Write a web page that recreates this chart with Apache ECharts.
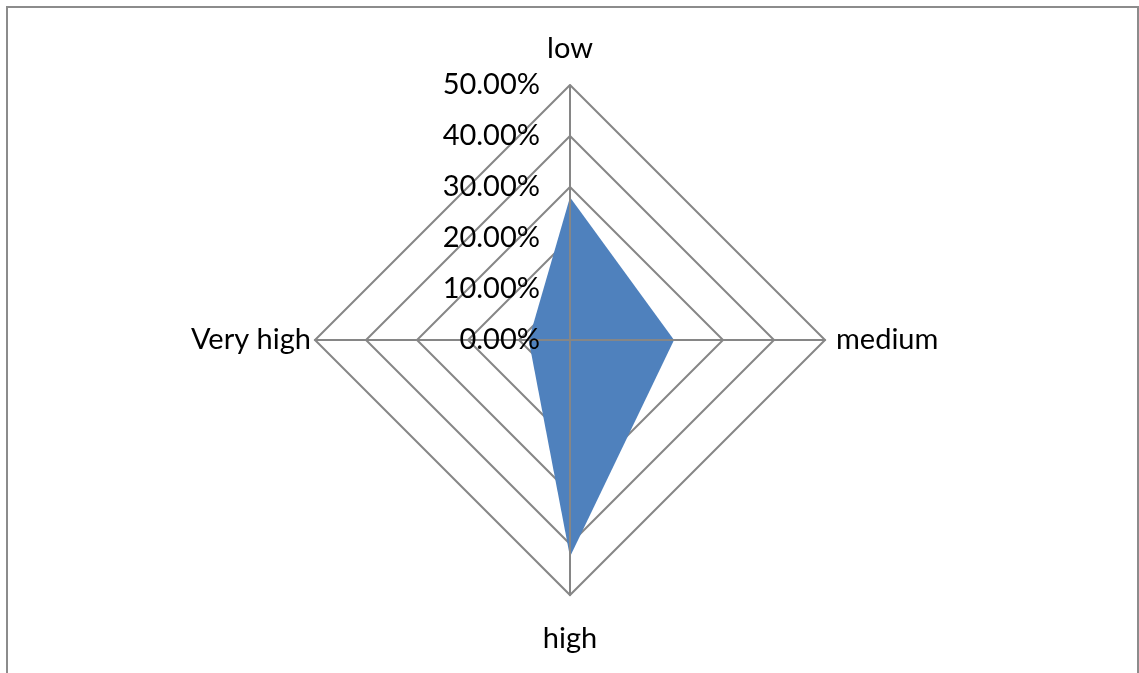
<!DOCTYPE html>
<html>
<head>
<meta charset="utf-8">
<script src="https://cdn.jsdelivr.net/npm/echarts@6/dist/echarts.min.js"></script>
<style>
html,body{margin:0;padding:0;background:#fff;}
#chart{width:1139px;height:673px;}
</style>
</head>
<body>
<div id="chart"></div>
<script>
// Categories in Excel (clockwise) order, starting at top
const categories = ['low', 'medium', 'high', 'Very high'];
// Percent values per category
const values = [28.0, 20.4, 42.5, 8.1];
// Radial tick values (percent)
const tickValues = [0, 10, 20, 30, 40, 50];

const axisMax = tickValues[tickValues.length - 1];
// ECharts radar runs counter-clockwise; reorder so the layout is clockwise
const order = [0].concat(categories.map((_, i) => i).slice(1).reverse());
const nameGaps = { 'low': 22, 'medium': 11, 'high': 29, 'Very high': 4 };
const FONT = 'Lato';
const FS = 29;

const gridIndicators = order.map(idx => ({ name: categories[idx], min: 0, max: axisMax }));
const topIndicators = order.map((idx, k) => {
  const ind = { name: categories[idx], min: 0, max: axisMax, nameGap: nameGaps[categories[idx]] };
  if (k === 0) ind.axisLabel = { show: true };
  return ind;
});
const seriesData = order.map(idx => values[idx]);

const common = {
  center: [570, 340],
  radius: 255,
  startAngle: 90,
  shape: 'polygon',
  splitNumber: tickValues.length - 1,
  axisTick: { show: false },
  splitArea: { show: false }
};

const chart = echarts.init(document.getElementById('chart'), null, { renderer: 'canvas' });
chart.setOption({
  backgroundColor: '#ffffff',
  animation: false,
  graphic: [{
    type: 'rect',
    shape: { x: 7, y: 7, width: 1131, height: 700 },
    style: { fill: 'none', stroke: '#8c8c8c', lineWidth: 2 },
    silent: true,
    z: 0
  }],
  radar: [
    Object.assign({}, common, {
      z: 0,
      indicator: gridIndicators,
      axisName: { show: false },
      axisLine: { show: false },
      axisLabel: { show: false },
      splitLine: { show: true, lineStyle: { color: '#868686', width: 2 } }
    }),
    Object.assign({}, common, {
      z: 5,
      indicator: topIndicators,
      axisName: { color: '#000', fontFamily: FONT, fontSize: FS },
      axisLine: { show: true, lineStyle: { color: '#868686', width: 2 } },
      splitLine: { show: false },
      axisLabel: {
        show: false,
        color: '#000',
        fontFamily: FONT,
        fontSize: FS,
        margin: 30,
        formatter: v => v.toFixed(2) + '%'
      }
    })
  ],
  series: [{
    type: 'radar',
    radarIndex: 0,
    symbol: 'none',
    z: 2,
    lineStyle: { width: 0, color: '#4f81bd' },
    areaStyle: { color: '#4f81bd', opacity: 1 },
    data: [{ value: seriesData, name: 'Series1' }]
  }]
});
</script>
</body>
</html>
